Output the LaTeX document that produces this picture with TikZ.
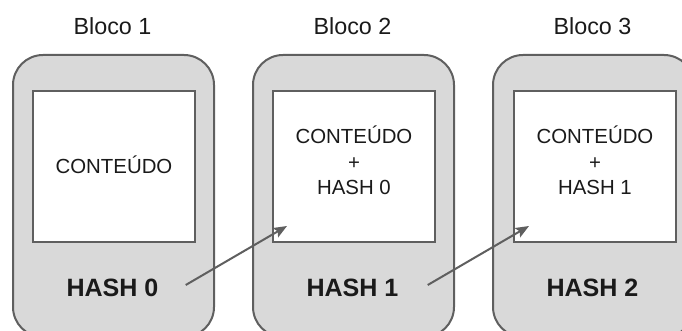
\documentclass[tikz,border=0pt]{standalone}
\usepackage{fontspec}
\setmainfont{Liberation Sans}
\usetikzlibrary{arrows.meta,calc}
\definecolor{blockfill}{HTML}{D9D9D9}
\definecolor{edgegray}{HTML}{5F5F5F}
\definecolor{inkdark}{HTML}{1A1A1A}
\tikzset{
  blockbox/.style={draw=edgegray, line width=1.5pt, fill=blockfill, rounded corners=22.5pt,
    minimum width=150.75pt, minimum height=211.5pt, anchor=north west, inner sep=0pt},
  contentbox/.style={draw=edgegray, line width=1.5pt, fill=white,
    minimum width=121.5pt, minimum height=113.25pt, anchor=north west, inner sep=0pt},
  contenttext/.style={align=center, text=inkdark, font=\fontsize{15.3}{19.2}\selectfont, inner sep=0pt},
  titletext/.style={text=inkdark, font=\fontsize{17.5}{21}\selectfont, inner sep=0pt},
  hashtext/.style={text=inkdark, font=\bfseries\fontsize{18.8}{22}\selectfont, inner sep=0pt},
  linkarrow/.style={draw=edgegray, line width=1.5pt,
    -{Stealth[length=10pt,width=8pt,inset=2pt]}}
}
\begin{document}
\begin{tikzpicture}[x=0.75pt,y=-0.75pt]
  \useasboundingbox (0,0) rectangle (682,331);
  \begin{scope}
    \clip (0,0) rectangle (682,331);
    % three blocks
    \node[blockbox] (b1) at (12,54) {};
    \node[blockbox] (b2) at (252,54) {};
    \node[blockbox] (b3) at (492,54) {};
    % content squares
    \node[contentbox] (c1) at (32,90) {};
    \node[contentbox] (c2) at (272,90) {};
    \node[contentbox] (c3) at (513,90) {};
  \end{scope}
  % titles
  \node[titletext] (t1) at (112.5,26) {Bloco 1};
  \node[titletext] (t2) at (352.5,26) {Bloco 2};
  \node[titletext] (t3) at (592.5,26) {Bloco 3};
  % content text
  \node[contenttext] (x1) at ($(c1.center)+(0,-2)$) {CONTEÚDO};
  \node[contenttext] (x2) at ($(c2.center)+(0,-6)$) {CONTEÚDO\\+\\HASH 0};
  \node[contenttext] (x3) at ($(c3.center)+(0,-6)$) {CONTEÚDO\\+\\HASH 1};
  % hash labels
  \node[hashtext] (h1) at (112.5,288) {HASH 0};
  \node[hashtext] (h2) at (352.5,288) {HASH 1};
  \node[hashtext] (h3) at (592.5,288) {HASH 2};
  % links from each hash to the next block's content
  \coordinate (s1) at ($(h1.east)+(27,-3)$);
  \coordinate (e1) at ($(c2.south west)+(15,-17)$);
  \coordinate (s2) at ($(h2.east)+(29,-3)$);
  \coordinate (e2) at ($(c3.south west)+(16,-17)$);
  \draw[linkarrow] (s1) -- (e1);
  \draw[linkarrow] (s2) -- (e2);
\end{tikzpicture}
\end{document}
